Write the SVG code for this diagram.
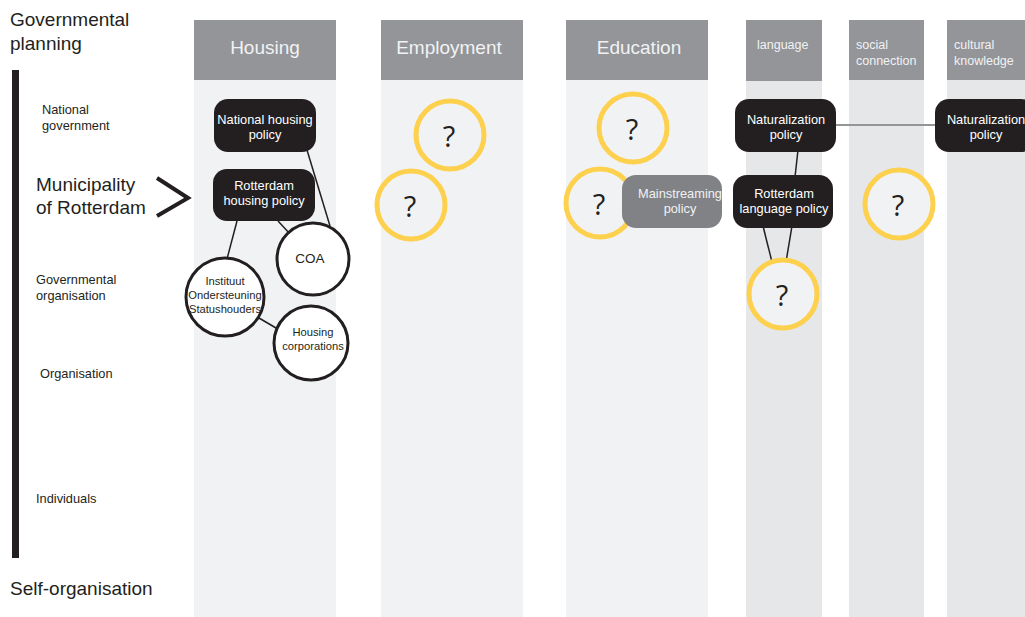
<svg xmlns="http://www.w3.org/2000/svg" width="1025" height="617" viewBox="0 0 1025 617">
<style>
text{font-family:"Liberation Sans",Arial,sans-serif;}
.hdr{fill:#939598;}
.body1{fill:#f1f2f4;}
.body2{fill:#e6e7e9;}
.ht{fill:#f1f2f4;font-size:19px;text-anchor:middle;}
.hs{fill:#f1f2f4;font-size:12.5px;}
.lab{fill:#231f20;font-size:12.8px;}
.big{fill:#231f20;font-size:19px;}
.pol{fill:#231f20;}
.pt{fill:#ffffff;font-size:12.8px;text-anchor:middle;}
.circ{fill:#ffffff;stroke:#231f20;stroke-width:3;}
.ct{fill:#231f20;font-size:11.2px;text-anchor:middle;}
.q{fill:#f1f2f4;stroke:#fdd04e;stroke-width:5;}
.qt{fill:#231f20;font-family:"Open Sans","DejaVu Sans",sans-serif;font-weight:500;font-size:29px;text-anchor:middle;}
.ln{stroke:#231f20;stroke-width:1.5;fill:none;}
</style>
<rect width="1025" height="617" fill="#ffffff"/>
<g id="columns">
<rect class="body1" x="194" y="80" width="142" height="537"/>
<rect class="hdr" x="194" y="20" width="142" height="60"/>
<text class="ht" x="265" y="54">Housing</text>
<rect class="body1" x="381" y="80" width="142" height="537"/>
<rect class="hdr" x="381" y="20" width="142" height="60"/>
<text class="ht" x="449" y="54">Employment</text>
<rect class="body1" x="566" y="80" width="142" height="537"/>
<rect class="hdr" x="566" y="20" width="142" height="60"/>
<text class="ht" x="639" y="54">Education</text>
<rect class="body2" x="746" y="81" width="76" height="536"/>
<rect class="hdr" x="746" y="20" width="76" height="61"/>
<text class="hs" x="757" y="49">language</text>
<rect class="body2" x="849" y="80" width="75" height="537"/>
<rect class="hdr" x="849" y="20" width="75" height="60"/>
<text class="hs" x="856" y="49">social</text>
<text class="hs" x="856" y="65">connection</text>
<rect class="body2" x="947" y="80" width="78" height="537"/>
<rect class="hdr" x="947" y="20" width="78" height="60"/>
<text class="hs" x="954" y="49">cultural</text>
<text class="hs" x="954" y="65">knowledge</text>
</g>
<g id="axis">
<rect x="12" y="70" width="7" height="488" fill="#231f20"/>
<text class="big" x="10" y="26">Governmental</text>
<text class="big" x="10" y="50">planning</text>
<text class="lab" x="42" y="114">National</text>
<text class="lab" x="42" y="130">government</text>
<text class="big" x="36" y="191">Municipality</text>
<text class="big" x="36" y="214">of Rotterdam</text>
<polyline points="157,178 188,198 157,216" fill="none" stroke="#231f20" stroke-width="4"/>
<text class="lab" x="36" y="284">Governmental</text>
<text class="lab" x="36" y="300">organisation</text>
<text class="lab" x="40" y="378">Organisation</text>
<text class="lab" x="36" y="503">Individuals</text>
<text class="big" x="10" y="595">Self-organisation</text>
</g>
<g id="connectors">
<line class="ln" x1="307" y1="150" x2="330" y2="226"/>
<line class="ln" x1="237" y1="221" x2="227" y2="259"/>
<line class="ln" x1="278" y1="221" x2="291" y2="235"/>
<line class="ln" x1="259" y1="318" x2="276" y2="328"/>
<line class="ln" x1="798" y1="150" x2="795" y2="177"/>
<line class="ln" x1="763" y1="226" x2="772" y2="262"/>
<line class="ln" x1="792" y1="226" x2="786" y2="262"/>
<line x1="836" y1="125" x2="937" y2="125" stroke="#939598" stroke-width="2"/>
</g>
<g id="national-housing-policy">
<rect class="pol" x="214" y="99" width="102" height="53" rx="14"/>
<text class="pt" x="265" y="124">National housing</text>
<text class="pt" x="265" y="139">policy</text>
</g>
<g id="rotterdam-housing-policy">
<rect class="pol" x="213" y="169" width="102" height="52" rx="14"/>
<text class="pt" x="264" y="190">Rotterdam</text>
<text class="pt" x="264" y="205">housing policy</text>
</g>
<g id="coa">
<circle class="circ" cx="313" cy="259" r="36"/>
<text class="pt" x="310" y="263" style="fill:#231f20;font-size:13.5px">COA</text>
</g>
<g id="instituut">
<circle class="circ" cx="225" cy="297" r="39"/>
<text class="ct" x="225" y="285">Instituut</text>
<text class="ct" x="225" y="299">Ondersteuning</text>
<text class="ct" x="225" y="313">Statushouders</text>
</g>
<g id="housing-corporations">
<circle class="circ" cx="311" cy="343" r="37"/>
<text class="ct" x="313" y="336">Housing</text>
<text class="ct" x="313" y="350">corporations</text>
</g>
<g id="employment-q1">
<circle class="q" cx="450" cy="135" r="34"/>
<text class="qt" x="449" y="147">?</text>
</g>
<g id="employment-q2">
<circle class="q" cx="411" cy="205" r="34"/>
<text class="qt" x="410" y="217">?</text>
</g>
<g id="education-q1">
<circle class="q" cx="633" cy="128" r="34"/>
<text class="qt" x="632" y="140">?</text>
</g>
<g id="education-q2">
<circle class="q" cx="600" cy="203" r="34"/>
<text class="qt" x="599" y="215">?</text>
</g>
<g id="mainstreaming-policy">
<rect x="622" y="175" width="100" height="53" rx="14" fill="#808285"/>
<text class="pt" x="680" y="198" style="fill:#f1f2f4">Mainstreaming</text>
<text class="pt" x="680" y="213" style="fill:#f1f2f4">policy</text>
</g>
<g id="naturalization-policy-language">
<rect class="pol" x="735" y="99" width="101" height="53" rx="14"/>
<text class="pt" x="786" y="124">Naturalization</text>
<text class="pt" x="786" y="139">policy</text>
</g>
<g id="rotterdam-language-policy">
<rect class="pol" x="733" y="175" width="100" height="53" rx="14"/>
<text class="pt" x="784" y="198">Rotterdam</text>
<text class="pt" x="784" y="213">language policy</text>
</g>
<g id="language-q">
<circle class="q" cx="783" cy="294" r="34"/>
<text class="qt" x="782" y="306">?</text>
</g>
<g id="social-q">
<circle class="q" cx="899" cy="204" r="34"/>
<text class="qt" x="898" y="216">?</text>
</g>
<g id="naturalization-policy-cultural">
<rect class="pol" x="935" y="99" width="100" height="53" rx="14"/>
<text class="pt" x="986" y="124">Naturalization</text>
<text class="pt" x="986" y="139">policy</text>
</g>
</svg>
